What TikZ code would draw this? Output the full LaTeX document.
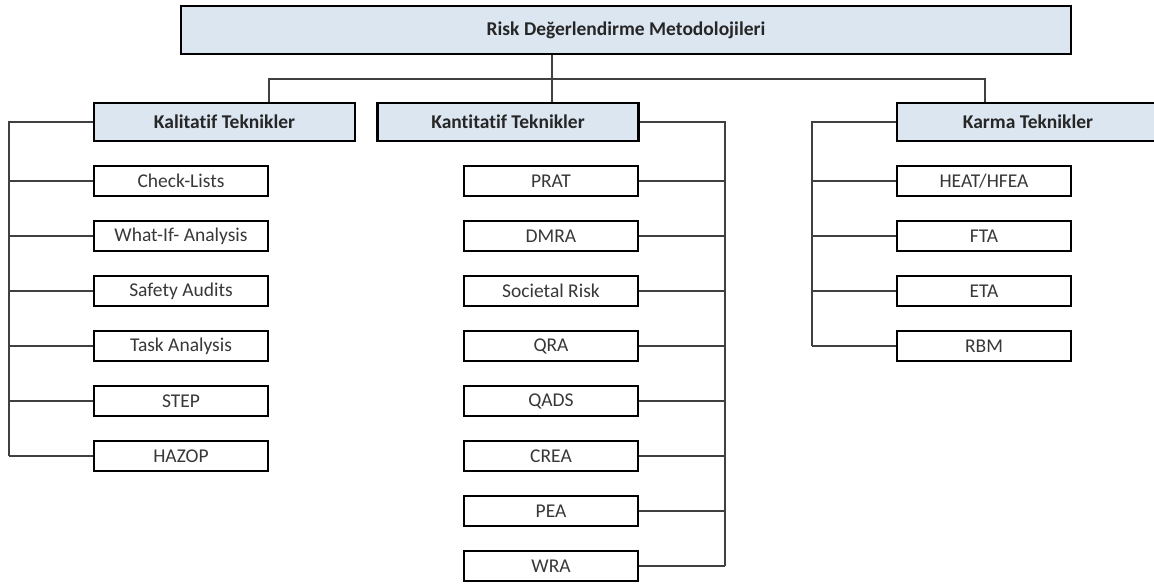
\documentclass[tikz,border=0pt]{standalone}
\usepackage{fontspec}
\setmainfont{Carlito}[Ligatures=CommonOff]
\begin{document}
\begin{tikzpicture}[x=1pt,y=-1pt,
  hdr/.style={draw=black,line width=2.8pt,fill=hdrfill,minimum width=261pt,minimum height=38pt,inner sep=0pt,font=\fontsize{19.5}{22}\selectfont\bfseries,text=black!85},
  item/.style={draw=black,line width=2.8pt,fill=white,minimum width=174pt,minimum height=30pt,inner sep=0pt,font=\fontsize{19.5}{22}\selectfont,text=black!78},
  conn/.style={draw=black!75,line width=1.3pt}]
\definecolor{hdrfill}{HTML}{DCE6F1}
\useasboundingbox (0,0) rectangle (1154,585);
\clip (0,0) rectangle (1154,585);
% title
\node[hdr,minimum width=890pt,minimum height=48pt] (title) at (626,30) {Risk Değerlendirme Metodolojileri};
% category headers
\node[hdr] (kal) at (224.5,122) {Kalitatif Teknikler};
\node[hdr] (kant) at (508,122) {Kantitatif Teknikler};
\node[hdr,minimum width=262pt] (karma) at (1028,122) {Karma Teknikler};
% junctions
\coordinate (ja) at (269,79);
\coordinate (jb) at (552,79);
\coordinate (jc) at (985,79);
\coordinate (sl) at (9,0);
\coordinate (sr) at (725,0);
\coordinate (sk) at (812,0);
\draw[conn] (jb |- title.south) -- (jb |- kant.north);
\draw[conn] (ja |- kal.north) -- (ja) -- (jc) -- (jc |- karma.north);
% Kalitatif items
\foreach \n/\t [count=\i from 0] in {a1/{Check-Lists},a2/{What-If- Analysis},a3/{Safety Audits},a4/{Task Analysis},a5/{STEP},a6/{HAZOP}}{
  \node[item] (\n) at (181,181+55*\i) {\raisebox{-2.5pt}{\t}};
  \draw[conn] (sl |- \n.west) -- (\n.west);
}
\draw[conn] (kal.west) -- (sl |- kal.west) -- (sl |- a6.west);
% Kantitatif items
\foreach \n/\t [count=\i from 0] in {b1/{PRAT},b2/{DMRA},b3/{Societal Risk},b4/{QRA},b5/{QADS},b6/{CREA},b7/{PEA},b8/{WRA}}{
  \node[item] (\n) at (551,181+55*\i) {\raisebox{-2.5pt}{\t}};
  \draw[conn] (\n.east) -- (sr |- \n.east);
}
\draw[conn] (kant.east) -- (sr |- kant.east) -- (sr |- b8.east);
% Karma items
\foreach \n/\t [count=\i from 0] in {c1/{HEAT/HFEA},c2/{FTA},c3/{ETA},c4/{RBM}}{
  \node[item] (\n) at (984,181+55*\i) {\raisebox{-2.5pt}{\t}};
  \draw[conn] (sk |- \n.west) -- (\n.west);
}
\draw[conn] (karma.west) -- (sk |- karma.west) -- (sk |- c4.west);
\end{tikzpicture}
\end{document}
